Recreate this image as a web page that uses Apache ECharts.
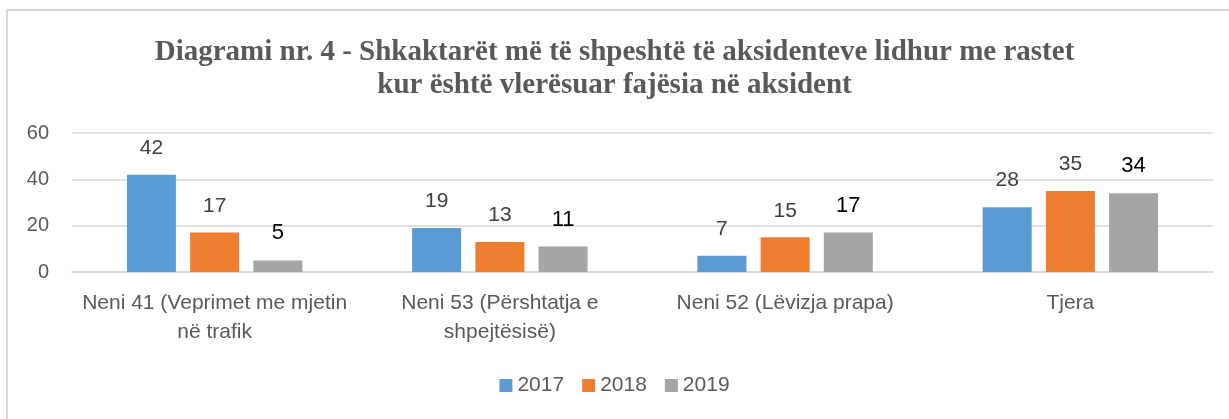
<!DOCTYPE html>
<html>
  <head>
    <meta charset="utf-8">
    <title>Diagrami nr. 4</title>
    <script src="https://cdn.jsdelivr.net/npm/echarts@6/dist/echarts.min.js"></script>
    <style>
    html, body { margin: 0; padding: 0; background: #fff; }
    #chart { width: 1229px; height: 419px; }
    </style>
  </head>
  <body>
    <div id="chart"></div>
    <script type="text/javascript">
      var categories = ['Neni 41 (Veprimet me mjetin\nnë trafik', 'Neni 53 (Përshtatja e\nshpejtësisë)', 'Neni 52 (Lëvizja prapa)', 'Tjera'];
      var years = ['2017', '2018', '2019'];
      var v2017 = [42, 19, 7, 28];
      var v2018 = [17, 13, 15, 35];
      var v2019 = [5, 11, 17, 34];
      var colors = ['#5B9BD5', '#ED7D31', '#A5A5A5'];

      var chart = echarts.init(document.getElementById('chart'));

      function bar(name, data, color, labelColor, labelSize) {
        return {
          name: name,
          type: 'bar',
          data: data,
          barWidth: 49,
          barGap: '29%',
          itemStyle: { color: color },
          label: {
            show: true,
            position: 'top',
            distance: 16,
            color: labelColor,
            fontSize: labelSize,
            fontFamily: 'Liberation Sans'
          }
        };
      }

      var option = {
        animation: false,
        color: colors,
        title: {
          text: 'Diagrami nr. 4 - Shkaktarët më të shpeshtë të aksidenteve lidhur me rastet\nkur është vlerësuar fajësia në aksident',
          left: 'center',
          top: 31,
          textStyle: {
            fontFamily: 'Liberation Serif',
            fontWeight: 'bold',
            fontSize: 29,
            lineHeight: 33,
            color: '#595959'
          }
        },
        graphic: [{
          type: 'rect',
          shape: { x: 7, y: 10, width: 1400, height: 600 },
          style: { fill: 'none', stroke: '#D9D9D9', lineWidth: 2 },
          silent: true
        }],
        legend: {
          data: years,
          bottom: 18,
          left: 'center',
          itemWidth: 13,
          itemHeight: 13,
          itemGap: 18,
          icon: 'rect',
          textStyle: { color: '#595959', fontSize: 21, fontFamily: 'Liberation Sans' }
        },
        grid: { left: 72, right: 16, top: 133, bottom: 147 },
        xAxis: {
          type: 'category',
          data: categories,
          axisTick: { show: false },
          axisLine: { lineStyle: { color: '#D9D9D9', width: 1.5 } },
          axisLabel: {
            color: '#595959',
            fontSize: 21,
            lineHeight: 29,
            margin: 17,
            interval: 0,
            fontFamily: 'Liberation Sans'
          }
        },
        yAxis: {
          type: 'value',
          min: 0,
          max: 60,
          interval: 20,
          axisLabel: { color: '#595959', fontSize: 20, margin: 23, fontFamily: 'Liberation Sans' },
          splitLine: { lineStyle: { color: '#D9D9D9', width: 1.5 } }
        },
        series: [
          bar(years[0], v2017, colors[0], '#404040', 21),
          bar(years[1], v2018, colors[1], '#404040', 21),
          bar(years[2], v2019, colors[2], '#000000', 22)
        ]
      };
      chart.setOption(option);
    </script>
  </body>
</html>
